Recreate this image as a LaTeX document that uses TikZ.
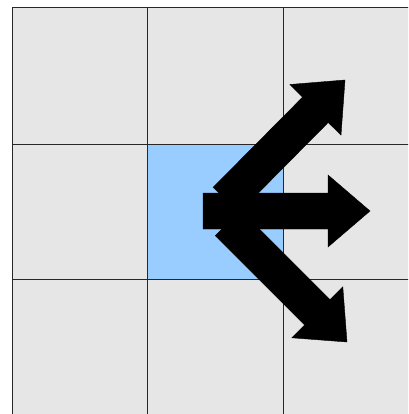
\documentclass[tikz,border=0pt]{standalone}
\definecolor{cellgrey}{RGB}{230,230,230}
\definecolor{cellblue}{RGB}{153,204,255}
\definecolor{gridline}{RGB}{40,40,40}
\tikzset{
  cell/.style={fill=cellgrey},
  hicell/.style={fill=cellblue},
  gridl/.style={draw=gridline,line width=0.9pt},
  bigarrow/.style={fill=black,draw=black,line width=0.4pt,line join=miter}
}
\begin{document}
\begin{tikzpicture}[x=1pt,y=-1pt]
\useasboundingbox (0,0) rectangle (408,414);
\clip (0,0) rectangle (408,414);
\fill[white] (0,0) rectangle (408,414);
% cells
\fill[cell] (12.5,7) rectangle (420,420);
\fill[hicell] (147.5,144) rectangle (283,279);
% grid lines
\foreach \x in {12.5,147.5,283} \draw[gridl] (\x,7) -- (\x,420);
\foreach \y in {7,144,279} \draw[gridl] (12.5,\y) -- (420,\y);
% up-right arrow
\filldraw[bigarrow] (238.8,212.7) -- (213.2,187.3) -- (302.6,97.1) -- (289.8,84.5)
  -- (345,80) -- (341,135.1) -- (328.2,122.5) -- cycle;
% down-right arrow
\filldraw[bigarrow] (240.7,210.3) -- (215.3,235.7) -- (304.6,325) -- (291.8,337.8)
  -- (347,342) -- (342.8,286.8) -- (330,299.6) -- cycle;
% right arrow
\filldraw[bigarrow] (203,193) -- (328,193) -- (328,175) -- (370,211) -- (328,247)
  -- (328,229) -- (203,229) -- cycle;
\end{tikzpicture}
\end{document}
